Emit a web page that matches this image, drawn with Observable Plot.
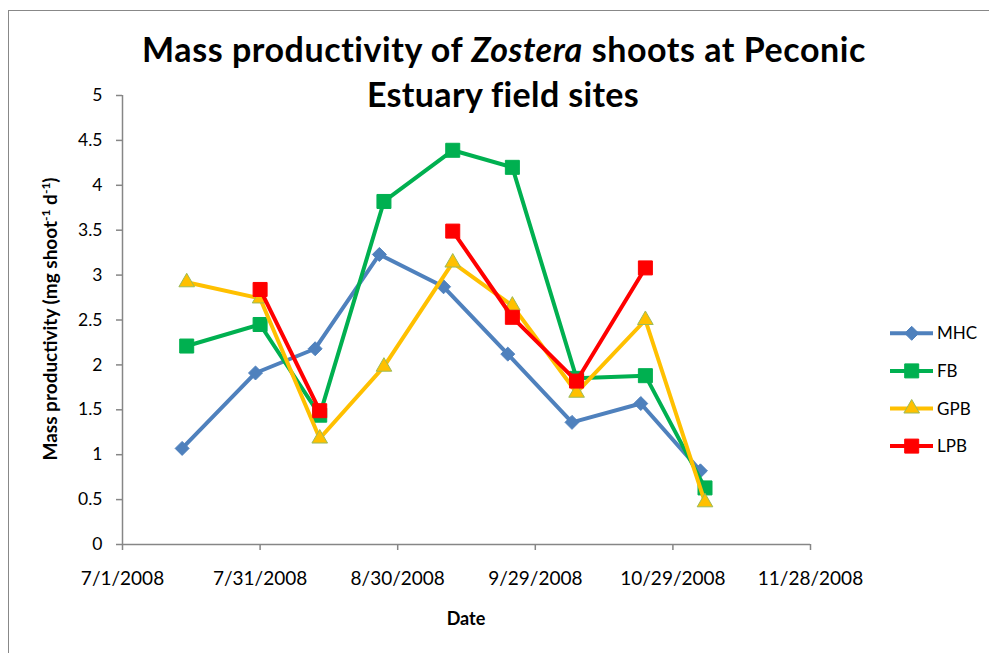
<!DOCTYPE html>
<html>
<head>
<meta charset="utf-8">
<script src="https://cdn.jsdelivr.net/npm/d3@7"></script>
<script src="https://cdn.jsdelivr.net/npm/@observablehq/plot@0.6"></script>
<style>
  html, body { margin: 0; padding: 0; background: #fff; }
  #wrap { position: relative; width: 989px; height: 653px; overflow: hidden; background: #fff; font-family: Lato, "Open Sans", sans-serif; }
  #frame { position: absolute; left: 7.5px; top: 9.5px; width: 1100px; height: 800px; border: 1px solid #888; box-sizing: border-box; }
  #wrap svg { position: absolute; left: 0; top: 0; }
</style>
</head>
<body>
<div id="wrap"><div id="frame"></div></div>
<script>
// ---- data ----
const siteNames = ["MHC", "FB", "GPB", "LPB"];
const datesMHC = ["2008-07-14", "2008-07-30", "2008-08-12", "2008-08-26", "2008-09-09", "2008-09-23", "2008-10-07", "2008-10-22", "2008-11-04"];
const datesOther = ["2008-07-15", "2008-07-31", "2008-08-13", "2008-08-27", "2008-09-11", "2008-09-24", "2008-10-08", "2008-10-23", "2008-11-05"];
const valuesMHC = [1.07, 1.91, 2.18, 3.23, 2.87, 2.12, 1.36, 1.57, 0.82];
const valuesFB  = [2.21, 2.45, 1.44, 3.82, 4.39, 4.20, 1.85, 1.88, 0.63];
const valuesGPB = [2.92, 2.74, 1.18, 1.98, 3.14, 2.66, 1.69, 2.50, 0.47];
const valuesLPB = [null, 2.84, 1.49, null, 3.49, 2.53, 1.82, 3.08, null];
const xTickDates = ["2008-07-01", "2008-07-31", "2008-08-30", "2008-09-29", "2008-10-29", "2008-11-28"];
const yTickValues = [0, 0.5, 1, 1.5, 2, 2.5, 3, 3.5, 4, 4.5, 5];

// ---- styles ----
const siteColors = ["#4F81BD", "#00B050", "#FFC000", "#FF0000"];
const siteOutlines = ["#4F81BD", "#00B050", "#9BBB59", "#FF0000"];
const siteSymbols = ["diamond2", "square", "triangle", "square"];
const siteR = [6.3, 7.9, 5.8, 7.9];
const axisGray = "#868686";
const FONT = "Lato, 'Open Sans', sans-serif";

const seriesValues = [valuesMHC, valuesFB, valuesGPB, valuesLPB];
const seriesDates = [datesMHC, datesOther, datesOther, datesOther];
const seriesRows = siteNames.map((name, i) =>
  seriesValues[i].map((v, j) => ({site: name, date: new Date(seriesDates[i][j]), value: v}))
);
const xTicks = xTickDates.map(d => new Date(d));
const fmtDate = d => `${d.getUTCMonth() + 1}/${d.getUTCDate()}/${d.getUTCFullYear()}`;

const seriesMarks = [];
siteNames.forEach((name, i) => {
  seriesMarks.push(Plot.line(seriesRows[i], {x: "date", y: "value", stroke: siteColors[i], strokeWidth: 4, strokeLinejoin: "round"}));
  seriesMarks.push(Plot.dot(seriesRows[i].filter(d => d.value != null), {
    x: "date", y: "value", symbol: siteSymbols[i], r: siteR[i],
    fill: siteColors[i], stroke: siteOutlines[i], strokeWidth: 1
  }));
});

const chart = Plot.plot({
  width: 989, height: 653,
  marginLeft: 122, marginRight: 179, marginTop: 95, marginBottom: 109,
  style: {fontFamily: FONT, background: "transparent", overflow: "visible"},
  x: {type: "utc", domain: [xTicks[0], xTicks[xTicks.length - 1]]},
  y: {domain: [0, 5]},
  marks: [
    Plot.axisY({ticks: yTickValues, tickSize: 6, tickPadding: 14, fontSize: 17.5, stroke: axisGray, strokeWidth: 1.5, fill: "#000", tickFormat: d => String(d), label: null}),
    Plot.axisX({ticks: xTicks, tickSize: 6, tickPadding: 21, fontSize: 19, stroke: axisGray, strokeWidth: 1.5, fill: "#000", tickFormat: fmtDate, label: null}),
    Plot.ruleX([xTicks[0]], {stroke: axisGray, strokeWidth: 1.5}),
    Plot.ruleY([0], {stroke: axisGray, strokeWidth: 1.5}),
    ...seriesMarks
  ]
});
document.getElementById("wrap").appendChild(chart);

const svg = d3.select(chart);

// ---- title ----
const title = svg.append("text").attr("text-anchor", "middle").attr("font-family", FONT)
  .attr("font-weight", "bold").attr("font-size", 34).attr("fill", "#000");
const l1 = title.append("tspan").attr("x", 504).attr("y", 62).attr("letter-spacing", 0.55);
l1.append("tspan").text("Mass productivity of ");
l1.append("tspan").attr("font-style", "italic").text("Zostera");
l1.append("tspan").text(" shoots at Peconic");
title.append("tspan").attr("x", 503).attr("y", 107).attr("letter-spacing", 0.35).text("Estuary field sites");

// ---- axis titles ----
const yl = svg.append("text").attr("transform", "translate(57,319) rotate(-90)")
  .attr("text-anchor", "middle").attr("font-family", FONT).attr("font-weight", "bold")
  .attr("font-size", 19).attr("fill", "#000");
yl.append("tspan").text("Mass productivity (mg shoot");
yl.append("tspan").attr("font-size", 12).attr("dy", -7).text("-1");
yl.append("tspan").attr("dy", 7).text(" d");
yl.append("tspan").attr("font-size", 12).attr("dy", -7).text("-1");
yl.append("tspan").attr("dy", 7).text(")");

svg.append("text").attr("x", 466).attr("y", 625).attr("text-anchor", "middle")
  .attr("font-family", FONT).attr("font-weight", "bold").attr("font-size", 18).attr("fill", "#000").text("Date");

// ---- legend ----
const symMap = {diamond2: d3.symbolDiamond2, square: d3.symbolSquare, triangle: d3.symbolTriangle};
siteNames.forEach((name, i) => {
  const cy = 333.3 + i * 37.6;
  const g = svg.append("g");
  g.append("line").attr("x1", 890).attr("x2", 933).attr("y1", cy).attr("y2", cy)
    .attr("stroke", siteColors[i]).attr("stroke-width", 4);
  g.append("path").attr("transform", `translate(911.7,${cy})`)
    .attr("d", d3.symbol(symMap[siteSymbols[i]], siteR[i] * siteR[i] * Math.PI)())
    .attr("fill", siteColors[i]).attr("stroke", siteOutlines[i]).attr("stroke-width", 1);
  g.append("text").attr("x", 937).attr("y", cy).attr("dy", "0.36em").attr("text-anchor", "start")
    .attr("font-family", FONT).attr("font-size", 17).attr("fill", "#000").text(name);
});
</script>
</body>
</html>
